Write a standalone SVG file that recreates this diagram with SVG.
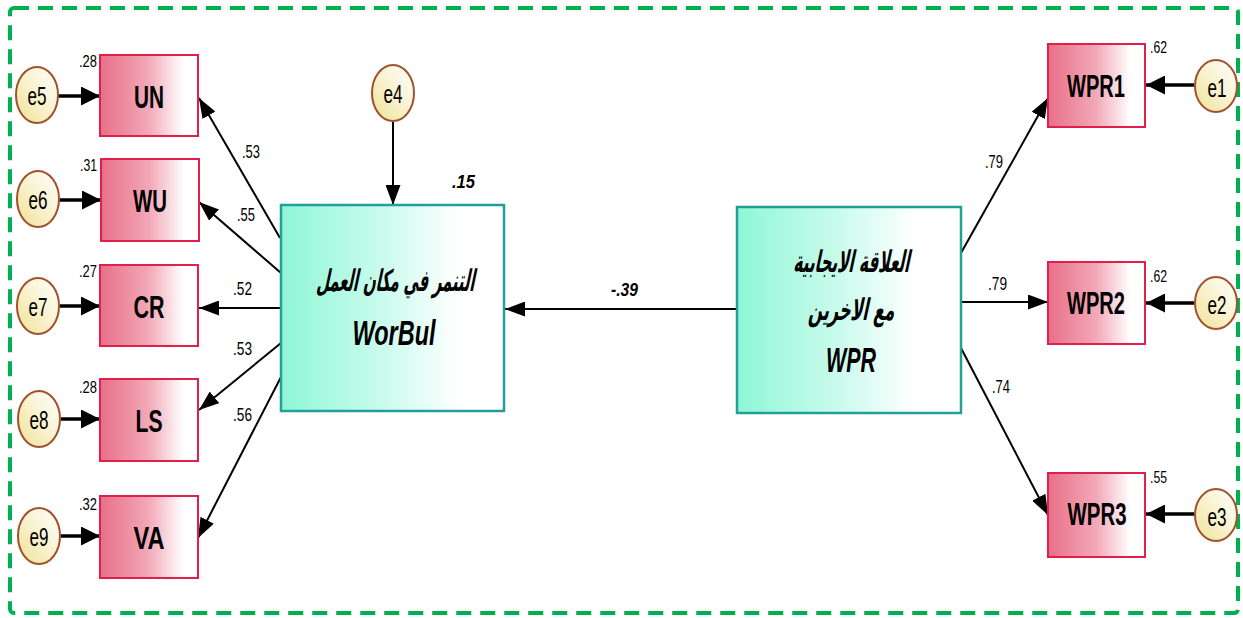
<svg xmlns="http://www.w3.org/2000/svg" width="1243" height="618" viewBox="0 0 1243 618">
<defs>
<linearGradient id="gPink" x1="0" y1="0" x2="1" y2="0">
<stop offset="0" stop-color="#e86f88"/>
<stop offset="0.5" stop-color="#f2a9b8"/>
<stop offset="0.85" stop-color="#ffffff"/>
</linearGradient>
<linearGradient id="gTeal" x1="0" y1="0" x2="1" y2="0">
<stop offset="0" stop-color="#8ff7d6"/>
<stop offset="0.45" stop-color="#c9fbec"/>
<stop offset="0.8" stop-color="#ffffff"/>
</linearGradient>
<linearGradient id="gEll" x1="0" y1="1" x2="1" y2="0">
<stop offset="0" stop-color="#efe196"/>
<stop offset="0.5" stop-color="#f9f2cf"/>
<stop offset="1" stop-color="#ffffff"/>
</linearGradient>
<marker id="ah" markerUnits="userSpaceOnUse" viewBox="0 0 20 15" markerWidth="20" markerHeight="15" refX="20" refY="7.5" orient="auto">
<path d="M0,0 L20,7.5 L0,15 Z" fill="#000"/>
</marker>
<marker id="ah2" markerUnits="userSpaceOnUse" viewBox="0 0 19 19" markerWidth="19" markerHeight="19" refX="19" refY="9.5" orient="auto">
<path d="M0,0 L19,9.5 L0,19 Z" fill="#000"/>
</marker>
</defs>
<style>
.border{fill:none;stroke:#00b04f;stroke-width:4;stroke-dasharray:15 9}
.obs{fill:url(#gPink);stroke:#e0204a;stroke-width:2}
.lat{fill:url(#gTeal);stroke:#20a096;stroke-width:2.5}
.err{fill:url(#gEll);stroke:#a0522d;stroke-width:2}
.lbl{font-family:"Liberation Sans",Arial,sans-serif;font-weight:bold;font-size:32px;fill:#000;text-anchor:middle}
.etx{font-family:"Liberation Sans",Arial,sans-serif;font-size:25px;fill:#000;text-anchor:middle}
.num{font-family:"Liberation Sans",Arial,sans-serif;font-size:19px;fill:#000}
.sq{font-family:"Liberation Sans",Arial,sans-serif;font-size:16px;fill:#000}
.bi{font-family:"Liberation Sans",Arial,sans-serif;font-size:19px;font-weight:bold;font-style:italic;fill:#000}
.big{font-family:"Liberation Sans",Arial,sans-serif;font-size:35px;font-weight:bold;font-style:italic;fill:#000;text-anchor:middle}
.ar{font-family:"DejaVu Sans","Noto Sans",sans-serif;font-size:30px;font-weight:bold;fill:#000;text-anchor:middle}
.c{fill:none;stroke:#000;stroke-width:2;marker-end:url(#ah)}
.ce{fill:none;stroke:#000;stroke-width:3.5;marker-end:url(#ah2)}
</style>
<rect class="border" x="10" y="8" width="1228" height="605" rx="4"/>

<g id="connectors">
<path class="ce" d="M58,96 L100,96"/>
<path class="ce" d="M59,200 L101,200"/>
<path class="ce" d="M60,306 L100,306"/>
<path class="ce" d="M61,419 L100,419"/>
<path class="ce" d="M61,536 L100,536"/>
<path class="c" d="M393,122 L393,205"/>
<path class="c" d="M280,238 L199,98"/>
<path class="c" d="M281,273 L199,202"/>
<path class="c" d="M281,308 L199,308"/>
<path class="c" d="M281,343 L199,410"/>
<path class="c" d="M281,377 L198,538"/>
<path class="c" d="M737,309 L505,309"/>
<path class="c" d="M961,253 L1048,98"/>
<path class="c" d="M961,302 L1048,302"/>
<path class="c" d="M961,348 L1048,515"/>
<path class="ce" d="M1194,85 L1146,85"/>
<path class="ce" d="M1194,303 L1146,303"/>
<path class="ce" d="M1194,514 L1146,514"/>
<text class="num" x="242" y="158" textLength="18" lengthAdjust="spacingAndGlyphs">.53</text>
<text class="num" x="237" y="221" textLength="18" lengthAdjust="spacingAndGlyphs">.55</text>
<text class="num" x="233" y="295" textLength="19" lengthAdjust="spacingAndGlyphs">.52</text>
<text class="num" x="233" y="355" textLength="19" lengthAdjust="spacingAndGlyphs">.53</text>
<text class="num" x="233" y="421" textLength="19" lengthAdjust="spacingAndGlyphs">.56</text>
<text class="num" x="985" y="168" textLength="18" lengthAdjust="spacingAndGlyphs">.79</text>
<text class="num" x="988" y="290" textLength="19" lengthAdjust="spacingAndGlyphs">.79</text>
<text class="num" x="992" y="393" textLength="18" lengthAdjust="spacingAndGlyphs">.74</text>
<text class="bi" x="611" y="296" textLength="27" lengthAdjust="spacingAndGlyphs">-.39</text>
</g>

<g id="e5"><ellipse class="err" cx="37" cy="95" rx="21" ry="28"/><text class="etx" x="37" y="105" textLength="19" lengthAdjust="spacingAndGlyphs">e5</text></g>
<g id="e6"><ellipse class="err" cx="38" cy="199" rx="21" ry="28"/><text class="etx" x="38" y="209" textLength="19" lengthAdjust="spacingAndGlyphs">e6</text></g>
<g id="e7"><ellipse class="err" cx="38" cy="306" rx="21" ry="28"/><text class="etx" x="38" y="316" textLength="19" lengthAdjust="spacingAndGlyphs">e7</text></g>
<g id="e8"><ellipse class="err" cx="39" cy="419" rx="21" ry="28"/><text class="etx" x="39" y="429" textLength="19" lengthAdjust="spacingAndGlyphs">e8</text></g>
<g id="e9"><ellipse class="err" cx="39" cy="536" rx="21" ry="28"/><text class="etx" x="39" y="546" textLength="19" lengthAdjust="spacingAndGlyphs">e9</text></g>
<g id="e4"><ellipse class="err" cx="393" cy="93" rx="21" ry="28"/><text class="etx" x="393" y="103" textLength="19" lengthAdjust="spacingAndGlyphs">e4</text></g>
<g id="e1"><ellipse class="err" cx="1216" cy="86" rx="21" ry="26"/><text class="etx" x="1217" y="97" textLength="19" lengthAdjust="spacingAndGlyphs">e1</text></g>
<g id="e2"><ellipse class="err" cx="1216" cy="303" rx="21" ry="26"/><text class="etx" x="1217" y="314" textLength="19" lengthAdjust="spacingAndGlyphs">e2</text></g>
<g id="e3"><ellipse class="err" cx="1216" cy="515" rx="21" ry="26"/><text class="etx" x="1217" y="526" textLength="19" lengthAdjust="spacingAndGlyphs">e3</text></g>

<g id="UN"><rect class="obs" x="100" y="55" width="98" height="81"/><text class="lbl" x="149" y="108" textLength="30" lengthAdjust="spacingAndGlyphs">UN</text><text class="sq" x="79" y="67" textLength="18" lengthAdjust="spacingAndGlyphs">.28</text></g>
<g id="WU"><rect class="obs" x="101" y="159" width="98" height="82"/><text class="lbl" x="150" y="212" textLength="34" lengthAdjust="spacingAndGlyphs">WU</text><text class="sq" x="80" y="171" textLength="17" lengthAdjust="spacingAndGlyphs">.31</text></g>
<g id="CR"><rect class="obs" x="100" y="265" width="98" height="81"/><text class="lbl" x="149" y="318" textLength="31" lengthAdjust="spacingAndGlyphs">CR</text><text class="sq" x="79" y="277" textLength="18" lengthAdjust="spacingAndGlyphs">.27</text></g>
<g id="LS"><rect class="obs" x="100" y="379" width="98" height="82"/><text class="lbl" x="149" y="432" textLength="27" lengthAdjust="spacingAndGlyphs">LS</text><text class="sq" x="79" y="393" textLength="18" lengthAdjust="spacingAndGlyphs">.28</text></g>
<g id="VA"><rect class="obs" x="100" y="496" width="98" height="82"/><text class="lbl" x="149" y="549" textLength="31" lengthAdjust="spacingAndGlyphs">VA</text><text class="sq" x="79" y="510" textLength="18" lengthAdjust="spacingAndGlyphs">.32</text></g>

<g id="WPR1"><rect class="obs" x="1048" y="44" width="97" height="83"/><text class="lbl" x="1096" y="97" textLength="58" lengthAdjust="spacingAndGlyphs">WPR1</text><text class="sq" x="1150" y="53" textLength="17" lengthAdjust="spacingAndGlyphs">.62</text></g>
<g id="WPR2"><rect class="obs" x="1048" y="262" width="97" height="82"/><text class="lbl" x="1096" y="314" textLength="58" lengthAdjust="spacingAndGlyphs">WPR2</text><text class="sq" x="1150" y="282" textLength="17" lengthAdjust="spacingAndGlyphs">.62</text></g>
<g id="WPR3"><rect class="obs" x="1048" y="473" width="97" height="84"/><text class="lbl" x="1097" y="525" textLength="59" lengthAdjust="spacingAndGlyphs">WPR3</text><text class="sq" x="1150" y="483" textLength="17" lengthAdjust="spacingAndGlyphs">.55</text></g>

<g id="WorBul">
<rect class="lat" x="281" y="205" width="223" height="206"/>
<text class="ar" transform="translate(395,291) skewX(-12)" x="0" y="0" textLength="158" lengthAdjust="spacingAndGlyphs">التنمر في مكان العمل</text>
<text class="big" x="394" y="345" textLength="83" lengthAdjust="spacingAndGlyphs">WorBul</text>
<text class="bi" x="452" y="188" textLength="23" lengthAdjust="spacingAndGlyphs">.15</text>
</g>

<g id="WPR">
<rect class="lat" x="737" y="207" width="224" height="206"/>
<text class="ar" transform="translate(851,272) skewX(-12)" x="0" y="0" textLength="116" lengthAdjust="spacingAndGlyphs">العلاقة الايجابية</text>
<text class="ar" transform="translate(851,320) skewX(-12)" x="0" y="0" textLength="86" lengthAdjust="spacingAndGlyphs">مع الاخرين</text>
<text class="big" x="851" y="372" textLength="50" lengthAdjust="spacingAndGlyphs">WPR</text>
</g>
</svg>
